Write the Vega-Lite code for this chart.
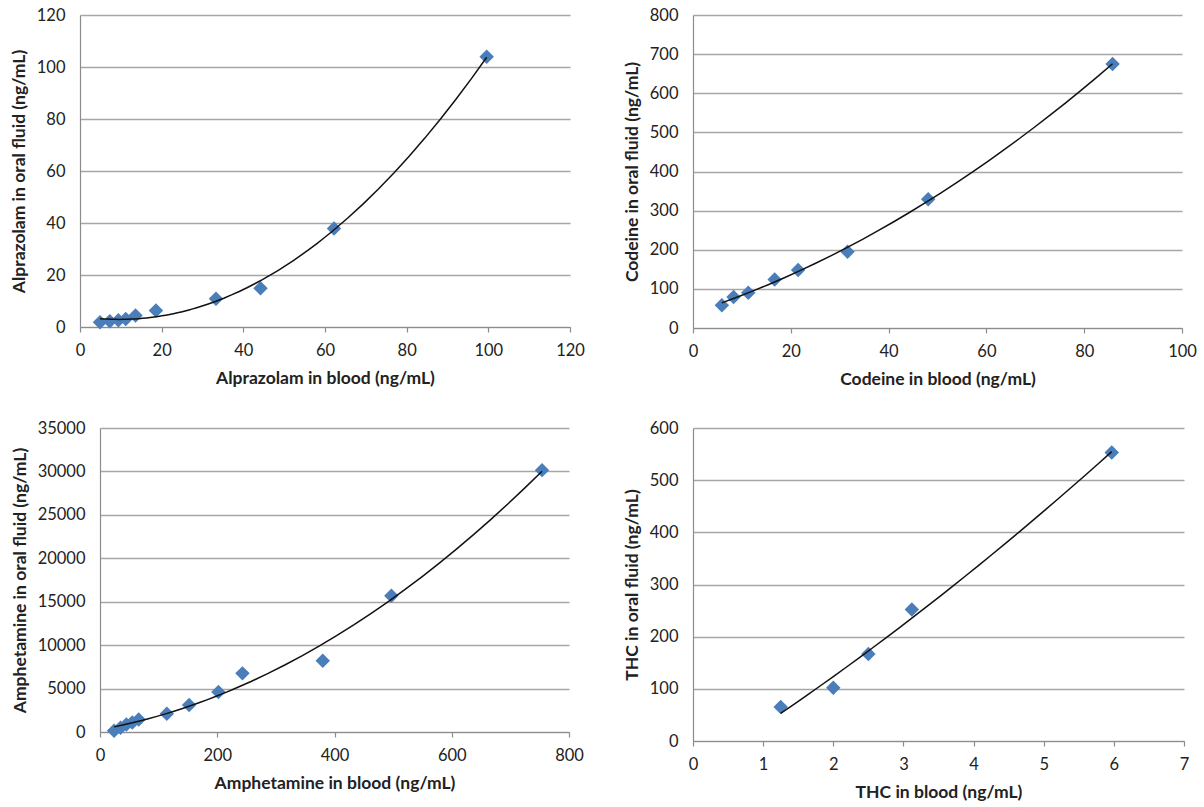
{
  "$schema": "https://vega.github.io/schema/vega-lite/v6.json",
  "padding": {"left": 10, "top": 7, "right": 5, "bottom": 5},
  "background": "white",
  "datasets": {
    "alprazolam": [
      {"blood": 4.9, "oral": 1.8},
      {"blood": 7.3, "oral": 2.2},
      {"blood": 9.4, "oral": 2.6},
      {"blood": 11.2, "oral": 3.1},
      {"blood": 13.6, "oral": 4.4},
      {"blood": 18.6, "oral": 6.3},
      {"blood": 33.3, "oral": 10.9},
      {"blood": 44.2, "oral": 14.9},
      {"blood": 62.2, "oral": 37.9},
      {"blood": 99.6, "oral": 103.9}
    ],
    "codeine": [
      {"blood": 5.9, "oral": 58},
      {"blood": 8.3, "oral": 79},
      {"blood": 11.3, "oral": 90},
      {"blood": 16.7, "oral": 124},
      {"blood": 21.5, "oral": 148},
      {"blood": 31.6, "oral": 195},
      {"blood": 48.1, "oral": 329},
      {"blood": 85.8, "oral": 675}
    ],
    "amphetamine": [
      {"blood": 24, "oral": 150},
      {"blood": 35, "oral": 500},
      {"blood": 45, "oral": 850},
      {"blood": 55, "oral": 1100},
      {"blood": 66, "oral": 1450},
      {"blood": 114, "oral": 2100},
      {"blood": 152, "oral": 3100},
      {"blood": 202, "oral": 4600},
      {"blood": 243, "oral": 6750},
      {"blood": 380, "oral": 8200},
      {"blood": 497, "oral": 15700},
      {"blood": 754, "oral": 30150}
    ],
    "thc": [
      {"blood": 1.25, "oral": 65},
      {"blood": 2.0, "oral": 102},
      {"blood": 2.5, "oral": 167},
      {"blood": 3.12, "oral": 252},
      {"blood": 5.97, "oral": 553}
    ]
  },
  "columns": 2,
  "align": "none",
  "bounds": "full",
  "spacing": {"row": 32, "column": 38},
  "concat": [
    {
      "width": 490, "height": 312,
      "data": {"name": "alprazolam"},
      "encoding": {
        "x": {"field": "blood", "type": "quantitative", "scale": {"domain": [0, 120], "nice": false, "zero": false}, "axis": {"values": [0, 20, 40, 60, 80, 100, 120], "title": "Alprazolam in blood (ng/mL)"}},
        "y": {"field": "oral", "type": "quantitative", "scale": {"domain": [0, 120], "nice": false, "zero": false}, "axis": {"values": [0, 20, 40, 60, 80, 100, 120], "title": "Alprazolam in oral fluid (ng/mL)"}}
      },
      "layer": [
        {"mark": {"type": "point", "shape": "diamond", "filled": true, "size": 210, "color": "#4A7EBB", "opacity": 1}},
        {"transform": [{"regression": "oral", "on": "blood", "method": "poly", "order": 2}], "mark": {"type": "line", "color": "#111111", "strokeWidth": 1.5}}
      ]
    },
    {
      "width": 489, "height": 313,
      "data": {"name": "codeine"},
      "encoding": {
        "x": {"field": "blood", "type": "quantitative", "scale": {"domain": [0, 100], "nice": false, "zero": false}, "axis": {"values": [0, 20, 40, 60, 80, 100], "title": "Codeine in blood (ng/mL)"}},
        "y": {"field": "oral", "type": "quantitative", "scale": {"domain": [0, 800], "nice": false, "zero": false}, "axis": {"values": [0, 100, 200, 300, 400, 500, 600, 700, 800], "title": "Codeine in oral fluid (ng/mL)"}}
      },
      "layer": [
        {"mark": {"type": "point", "shape": "diamond", "filled": true, "size": 210, "color": "#4A7EBB", "opacity": 1}},
        {"transform": [{"regression": "oral", "on": "blood", "method": "poly", "order": 2}], "mark": {"type": "line", "color": "#111111", "strokeWidth": 1.5}}
      ]
    },
    {
      "width": 489, "height": 304,
      "data": {"name": "amphetamine"},
      "encoding": {
        "x": {"field": "blood", "type": "quantitative", "scale": {"domain": [0, 800], "nice": false, "zero": false, "range": [20, 489]}, "axis": {"values": [0, 200, 400, 600, 800], "title": "Amphetamine in blood (ng/mL)"}},
        "y": {"field": "oral", "type": "quantitative", "scale": {"domain": [0, 35000], "nice": false, "zero": false}, "axis": {"values": [0, 5000, 10000, 15000, 20000, 25000, 30000, 35000], "format": "d", "offset": -20, "title": "Amphetamine in oral fluid (ng/mL)"}}
      },
      "layer": [
        {"mark": {"type": "point", "shape": "diamond", "filled": true, "size": 210, "color": "#4A7EBB", "opacity": 1}},
        {"transform": [{"regression": "oral", "on": "blood", "method": "poly", "order": 2}], "mark": {"type": "line", "color": "#111111", "strokeWidth": 1.5}}
      ]
    },
    {
      "width": 491, "height": 313,
      "data": {"name": "thc"},
      "encoding": {
        "x": {"field": "blood", "type": "quantitative", "scale": {"domain": [0, 7], "nice": false, "zero": false}, "axis": {"values": [0, 1, 2, 3, 4, 5, 6, 7], "title": "THC in blood (ng/mL)"}},
        "y": {"field": "oral", "type": "quantitative", "scale": {"domain": [0, 600], "nice": false, "zero": false}, "axis": {"values": [0, 100, 200, 300, 400, 500, 600], "title": "THC in oral fluid (ng/mL)"}}
      },
      "layer": [
        {"mark": {"type": "point", "shape": "diamond", "filled": true, "size": 210, "color": "#4A7EBB", "opacity": 1}},
        {"transform": [{"regression": "oral", "on": "blood", "method": "poly", "order": 2}], "mark": {"type": "line", "color": "#111111", "strokeWidth": 1.5}}
      ]
    }
  ],
  "config": {
    "font": "Lato",
    "view": {"stroke": null},
    "axis": {
      "labelFont": "Lato", "labelFontSize": 16.5, "labelColor": "#222222",
      "titleFont": "Lato", "titleFontSize": 17.5, "titleFontWeight": "bold", "titleColor": "#222222",
      "domainColor": "#8c8c8c", "domainWidth": 1.2, "tickColor": "#8c8c8c", "tickWidth": 1.2,
      "gridColor": "#a6a6a6", "gridWidth": 1.3,
      "labelFlush": false, "labelOverlap": false
    },
    "axisX": {"grid": false, "ticks": true, "tickSize": 5, "labelPadding": 10, "titlePadding": 11},
    "axisY": {"grid": true, "ticks": false, "tickSize": 0, "labelPadding": 15, "titlePadding": 8}
  }
}
